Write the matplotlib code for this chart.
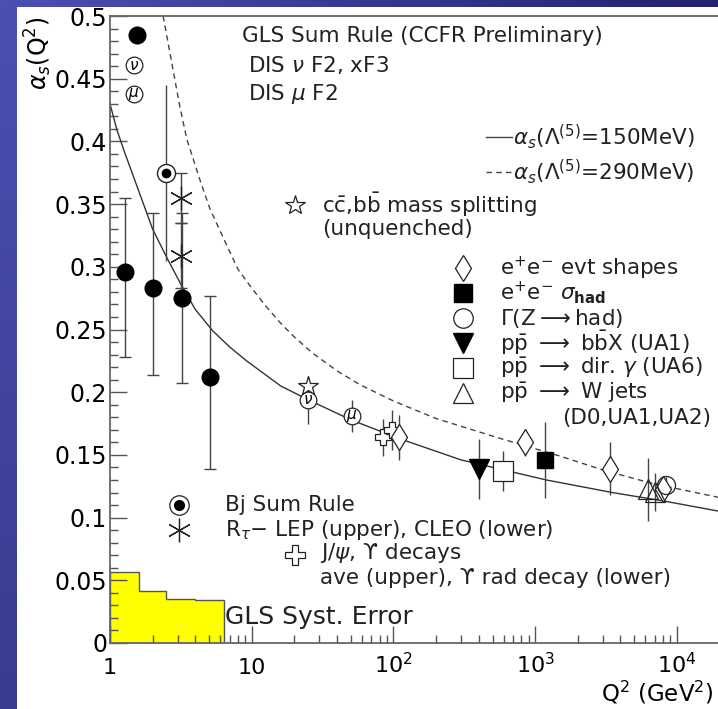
import numpy as np
import matplotlib
matplotlib.use('Agg')
import matplotlib.pyplot as plt
from matplotlib.colors import LinearSegmentedColormap
from matplotlib.ticker import MultipleLocator, LogLocator, NullFormatter

plt.rcParams['font.family'] = ['DejaVu Sans']
plt.rcParams['mathtext.fontset'] = 'dejavusans'

# alpha_s curves
q2_150 = [1, 1.12, 1.28, 1.6, 2.0, 2.5, 3.2, 4.0, 5.3, 7.0, 9.2, 16, 25, 50, 110, 300, 1200, 3500, 8300, 20000]
as_150 = [0.430, 0.409, 0.390, 0.360, 0.330, 0.308, 0.285, 0.266, 0.249, 0.236, 0.225, 0.205, 0.194,
          0.178, 0.163, 0.146, 0.130, 0.120, 0.113, 0.105]
q2_290 = [2.37, 3.12, 3.48, 4.32, 5.08, 7.0, 8.0, 10, 12.5, 16, 20, 27, 40, 58, 100, 200, 535, 1500,
          3000, 6800, 20000]
as_290 = [0.500, 0.427, 0.402, 0.369, 0.346, 0.312, 0.298, 0.283, 0.269, 0.255, 0.244, 0.231, 0.217,
          0.206, 0.193, 0.179, 0.164, 0.149, 0.138, 0.127, 0.116]

# GLS sum rule (CCFR)
gls_q2 = [1.28, 2.02, 3.2, 5.08]
gls_as = [0.296, 0.283, 0.275, 0.2125]
gls_lo = [0.068, 0.069, 0.068, 0.0735]
gls_hi = [0.059, 0.060, 0.068, 0.0645]

# GLS systematic error
syst_edges = [1, 1.6, 2.5, 4.0, 6.4]
syst_vals = [0.057, 0.0415, 0.035, 0.034]

bj_q2, bj_as, bj_err = [2.5], [0.375], [0.07]
rtau_q2 = [3.16, 3.16]
rtau_as = [0.355, 0.309]
rtau_err = [0.02, 0.026]

nu_q2, nu_as, nu_err = [25], [0.194], [0.019]
mu_q2, mu_as, mu_err = [50.8], [0.181], [0.013]
star_q2, star_as = [25], [0.205]
psi_q2, psi_as, psi_err = [85, 97], [0.164, 0.170], [0.015, 0.016]
shp_q2 = [110, 850, 3380, 8000]
shp_as = [0.164, 0.160, 0.139, 0.123]
shp_err = [0.018, 0.011, 0.021, 0.005]
had_q2, had_as, had_err = [1170], [0.146], [0.030]
z_q2, z_as, z_err = [8315], [0.126], [0.006]
bbx_q2, bbx_as, bbx_err = [400], [0.139], [0.024]
gam_q2, gam_as, gam_err = [591], [0.137], [0.016]
w_q2, w_as, w_err = [6300, 7000], [0.1225, 0.1205], [0.025, 0.015]

INK = '#222222'
EB = '#444444'


def ap(x, y):
    # pixel position in the picture -> axes fraction
    return (x - 110) / 608.0, (643 - y) / 627.0


def main():
    fig = plt.figure(figsize=(7.18, 7.09), dpi=100)
    ax = fig.add_axes([110 / 718, 66 / 709, 608 / 718, 627 / 709])
    ax.set_xscale('log')
    ax.set_xlim(1, 1.95e4)
    ax.set_ylim(0, 0.5)

    ax.stairs(syst_vals, syst_edges, fill=True, facecolor='#ffff00', edgecolor='#555555', lw=1, zorder=1)
    ax.plot(q2_150, as_150, '-', color='#333333', lw=1, zorder=2)
    ax.plot(q2_290, as_290, '--', color='#444444', lw=1, dashes=(4, 3), zorder=2)

    ekw = dict(ecolor=EB, elinewidth=1, zorder=3)
    ax.errorbar(gls_q2, gls_as, yerr=[gls_lo, gls_hi], fmt='o', ms=12, color='black', capsize=4, **ekw)
    ax.errorbar(bj_q2, bj_as, yerr=bj_err, fmt='o', ms=13, mfc='white', mec=INK, mew=1, **ekw)
    ax.plot(bj_q2, bj_as, 'o', ms=6, color='black', zorder=4)
    ax.errorbar(rtau_q2, rtau_as, yerr=rtau_err, fmt='none', capsize=4, **ekw)
    ax.plot(rtau_q2, rtau_as, ls='none', marker=(6, 2, 0), ms=17, mec=INK, mew=0.9, zorder=4)

    ax.errorbar(nu_q2, nu_as, yerr=nu_err, fmt='o', ms=12, mfc='white', mec=INK, mew=0.9, **ekw)
    ax.plot(star_q2, star_as, '*', ms=15, mfc='white', mec=INK, mew=0.9, zorder=4)
    ax.text(nu_q2[0], nu_as[0], r'$\nu$', fontsize=11, ha='center', va='center', zorder=6)
    ax.errorbar(mu_q2, mu_as, yerr=mu_err, fmt='o', ms=12, mfc='white', mec=INK, mew=0.9, **ekw)
    ax.text(mu_q2[0], mu_as[0], r'$\mu$', fontsize=11, ha='center', va='center', zorder=6)
    ax.errorbar(psi_q2, psi_as, yerr=psi_err, fmt='P', ms=12, mfc='white', mec=INK, mew=0.9, **ekw)
    ax.errorbar(shp_q2, shp_as, yerr=shp_err, fmt='d', ms=13, mfc='white', mec=INK, mew=0.9, **ekw)
    ax.errorbar(had_q2, had_as, yerr=had_err, fmt='s', ms=12, color='black', **ekw)
    ax.errorbar(z_q2, z_as, yerr=z_err, fmt='o', ms=13, mfc='none', mec=INK, mew=0.9, **ekw)
    ax.errorbar(bbx_q2, bbx_as, yerr=bbx_err, fmt='v', ms=14, color='black', **ekw)
    ax.errorbar(gam_q2, gam_as, yerr=gam_err, fmt='s', ms=15, mfc='white', mec=INK, mew=0.9, **ekw)
    ax.errorbar(w_q2, w_as, yerr=w_err, fmt='^', ms=14, mfc='none', mec=INK, mew=0.9, **ekw)

    # axes styling
    for side in ['left', 'bottom', 'top']:
        ax.spines[side].set_color('#666666')
        ax.spines[side].set_linewidth(1.3)
    ax.spines['right'].set_visible(False)
    yt = np.arange(0, 0.501, 0.05)
    ax.set_yticks(yt)
    ax.set_yticklabels(['%g' % round(v, 2) for v in yt], fontsize=17)
    ax.yaxis.set_minor_locator(MultipleLocator(0.01))
    ax.xaxis.set_minor_locator(LogLocator(base=10, subs=np.arange(2, 10)))
    ax.xaxis.set_minor_formatter(NullFormatter())
    ax.set_xticks([1, 10, 100, 1000, 10000])
    ax.set_xticklabels(['1', '10', r'$10^{2}$', r'$10^{3}$', r'$10^{4}$'], fontsize=16, va='baseline')
    ax.tick_params(which='both', direction='in', color='#555555', width=1, top=False, right=False)
    ax.tick_params(which='major', length=12)
    ax.tick_params(which='minor', length=6)
    ax.tick_params(axis='y', pad=2)
    ax.tick_params(axis='x', pad=22)

    fig.text(0.054, 0.976, r'$\alpha_s$(Q$^2$)', rotation=90, ha='center', va='top', fontsize=17)
    fig.text(0.994, 0.004, r'Q$^2$ (GeV$^2$)', ha='right', va='bottom', fontsize=16.5)

    # in-plot key
    tkw = dict(transform=ax.transAxes, fontsize=15.5, va='center', ha='left', color='#222222')
    mkw = dict(transform=ax.transAxes, clip_on=False, ls='none', zorder=5)
    gkw = dict(transform=ax.transAxes, fontsize=11, ha='center', va='center', zorder=6)

    ax.plot(*ap(137, 35), 'o', ms=12, color='black', **mkw)
    ax.text(*ap(242, 36), 'GLS Sum Rule (CCFR Preliminary)', **tkw)
    ax.plot(*ap(134, 65), 'o', ms=12, mfc='white', mec=INK, mew=0.9, **mkw)
    ax.text(*ap(134, 65), r'$\nu$', **gkw)
    ax.text(*ap(248, 65), r'DIS $\nu$ F2, xF3', **tkw)
    ax.plot(*ap(134, 94), 'o', ms=12, mfc='white', mec=INK, mew=0.9, **mkw)
    ax.text(*ap(134, 94), r'$\mu$', **gkw)
    ax.text(*ap(248, 94), r'DIS $\mu$ F2', **tkw)

    x0, y0 = ap(486, 137)
    x1, _ = ap(512, 137)
    ax.plot([x0, x1], [y0, y0], '-', color='#444444', lw=1, transform=ax.transAxes, clip_on=False)
    ax.text(*ap(513, 137), r'$\alpha_s$($\Lambda^{(5)}$=150MeV)', **tkw)
    x0, y0 = ap(486, 172)
    ax.plot([x0, x1], [y0, y0], '--', color='#444444', lw=1, dashes=(4, 3), transform=ax.transAxes, clip_on=False)
    ax.text(*ap(513, 172), r'$\alpha_s$($\Lambda^{(5)}$=290MeV)', **tkw)

    ax.plot(*ap(295, 205), '*', ms=15, mfc='white', mec=INK, mew=0.9, **mkw)
    ax.text(*ap(322, 205), r'c$\bar{\mathrm{c}}$,b$\bar{\mathrm{b}}$ mass splitting', **tkw)
    ax.text(*ap(322, 229), '(unquenched)', **tkw)

    ax.plot(*ap(463, 268), 'd', ms=13, mfc='white', mec=INK, mew=0.9, **mkw)
    ax.text(*ap(500, 268), r'e$^{+}$e$^{-}$ evt shapes', **tkw)
    ax.plot(*ap(463, 293), 's', ms=13, color='black', **mkw)
    ax.text(*ap(500, 293), r'e$^{+}$e$^{-}$ $\sigma_{\mathbf{had}}$', **tkw)
    ax.plot(*ap(463, 318), 'o', ms=14, mfc='white', mec=INK, mew=0.9, **mkw)
    ax.text(*ap(500, 318), r'$\Gamma$(Z$\longrightarrow$had)', **tkw)
    ax.plot(*ap(463, 343), 'v', ms=14, color='black', **mkw)
    ax.text(*ap(500, 343), r'p$\bar{\mathrm{p}}$ $\longrightarrow$ b$\bar{\mathrm{b}}$X (UA1)', **tkw)
    ax.plot(*ap(463, 368), 's', ms=14, mfc='white', mec=INK, mew=0.9, **mkw)
    ax.text(*ap(500, 368), r'p$\bar{\mathrm{p}}$ $\longrightarrow$ dir. $\gamma$ (UA6)', **tkw)
    ax.plot(*ap(463, 393), '^', ms=15, mfc='white', mec=INK, mew=0.9, **mkw)
    ax.text(*ap(500, 393), r'p$\bar{\mathrm{p}}$ $\longrightarrow$ W jets', **tkw)
    ax.text(*ap(562, 418), '(D0,UA1,UA2)', **tkw)

    ax.plot(*ap(179, 505), 'o', ms=14, mfc='white', mec=INK, mew=0.9, **mkw)
    ax.plot(*ap(179, 505), 'o', ms=7, color='black', **mkw)
    ax.text(*ap(225, 505), 'Bj Sum Rule', **tkw)
    ax.plot(*ap(179, 530), marker=(6, 2, 0), ms=17, mec=INK, mew=0.9, **mkw)
    ax.text(*ap(225, 530), r'R$_{\tau}$$-$ LEP (upper), CLEO (lower)', **tkw)
    ax.plot(*ap(295, 555), 'P', ms=14, mfc='white', mec=INK, mew=0.9, **mkw)
    ax.text(*ap(320, 553), r'J/$\psi$, ϒ decays', **tkw)
    ax.text(*ap(320, 578), 'ave (upper), ϒ rad decay (lower)', **tkw)
    ax.text(*ap(225, 617), 'GLS Syst. Error', transform=ax.transAxes, fontsize=18, va='center',
            ha='left', color='#222222')

    # slide background strips
    left = fig.add_axes([0, 0, 17 / 718, 1])
    left.imshow(np.linspace(0, 1, 200).reshape(-1, 1), aspect='auto',
                cmap=LinearSegmentedColormap.from_list('l', ['#4b50b2', '#393c8e']))
    left.axis('off')
    top = fig.add_axes([0, 1 - 7 / 709, 1, 7 / 709])
    top.imshow(np.linspace(0, 1, 400).reshape(1, -1), aspect='auto',
               cmap=LinearSegmentedColormap.from_list('t', ['#4b50b2', '#22226f']))
    top.axis('off')

    fig.savefig('out.png', dpi=100)


if __name__ == "__main__":
    main()
